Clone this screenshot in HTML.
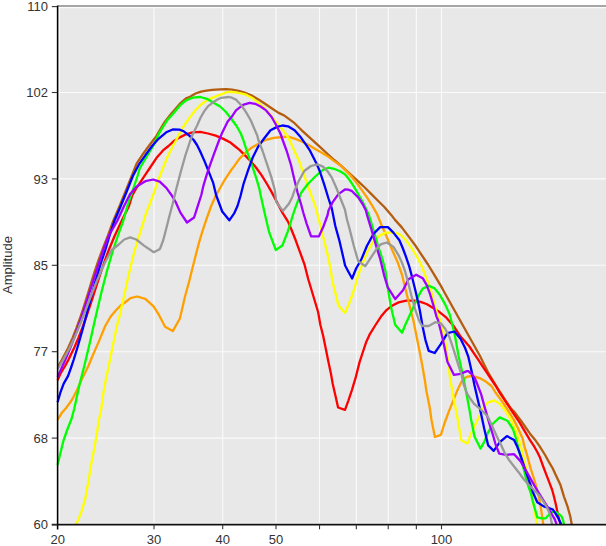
<!DOCTYPE html><html><head><meta charset="utf-8"><style>html,body{margin:0;padding:0;background:#fff;width:606px;height:546px;overflow:hidden}svg{display:block}text{font-family:"Liberation Sans",Arial,Helvetica,sans-serif;fill:#333333}</style></head><body>
<svg width="606" height="546" viewBox="0 0 606 546">
<rect x="58" y="6" width="548" height="518.5" fill="#e8e8e8"/>
<g stroke="#fbfbfb" stroke-width="1.10"><line x1="59.30" y1="6" x2="59.30" y2="524.5"/><line x1="154.02" y1="6" x2="154.02" y2="524.5"/><line x1="222.71" y1="6" x2="222.71" y2="524.5"/><line x1="275.99" y1="6" x2="275.99" y2="524.5"/><line x1="319.53" y1="6" x2="319.53" y2="524.5"/><line x1="356.33" y1="6" x2="356.33" y2="524.5"/><line x1="388.22" y1="6" x2="388.22" y2="524.5"/><line x1="416.34" y1="6" x2="416.34" y2="524.5"/><line x1="441.50" y1="6" x2="441.50" y2="524.5"/><line x1="58" y1="7.60" x2="606" y2="7.60"/><line x1="58" y1="92.50" x2="606" y2="92.50"/><line x1="58" y1="178.90" x2="606" y2="178.90"/><line x1="58" y1="265.30" x2="606" y2="265.30"/><line x1="58" y1="351.70" x2="606" y2="351.70"/><line x1="58" y1="438.10" x2="606" y2="438.10"/><line x1="58" y1="523.20" x2="606" y2="523.20"/></g>
<g fill="none" stroke-width="2.30" stroke-linejoin="round" stroke-linecap="butt">
<polyline stroke="#b45c10" points="57.9,366.7 61.8,360.0 68.1,348.0 72.6,338.0 76.5,328.0 80.1,318.0 83.4,308.0 86.5,298.0 88.4,292.0 91.4,282.0 94.5,272.0 96.5,266.0 98.6,260.0 102.3,250.0 107.8,236.0 113.2,221.0 119.6,206.0 125.3,192.0 131.7,176.0 136.6,163.6 143.2,153.7 149.2,145.5 156.3,136.2 164.0,123.0 171.6,113.3 175.0,109.4 180.5,103.1 186.0,98.3 190.0,96.8 195.5,93.5 201.0,91.6 206.5,90.7 212.0,89.9 220.0,89.4 226.0,89.2 232.0,89.6 238.6,90.8 245.2,92.8 251.8,95.5 258.4,99.4 265.0,103.8 271.6,108.2 278.2,112.6 284.7,115.8 294.6,123.2 301.2,129.8 307.8,135.8 314.4,141.9 321.0,147.9 327.6,154.0 334.2,160.0 340.7,165.5 345.0,169.3 351.6,175.4 358.2,181.4 364.8,187.5 371.4,194.1 378.0,200.7 384.6,207.3 391.2,214.9 395.0,219.9 401.6,227.1 408.2,235.9 414.8,244.7 421.4,254.6 428.0,264.5 434.3,274.9 440.9,285.9 443.1,290.0 455.4,312.0 467.7,334.0 480.0,356.0 484.0,364.2 488.0,372.3 494.0,382.3 500.0,392.0 506.0,401.1 511.0,408.6 514.0,411.5 521.5,421.5 530.0,433.7 534.6,439.2 539.2,445.6 545.1,455.0 549.0,462.1 552.8,468.5 555.4,474.2 557.9,479.4 560.5,485.1 563.9,496.3 567.5,506.4 570.3,516.5 571.7,524.3"/>
<polyline stroke="#ff0000" points="57.6,380.3 60.4,373.7 65.1,366.0 68.3,360.0 74.1,348.0 78.4,338.0 82.3,328.0 85.9,318.0 89.3,308.0 92.6,298.0 94.5,292.0 97.7,282.0 101.0,272.0 103.0,266.0 105.1,260.0 108.8,250.0 114.6,236.0 121.6,221.0 129.0,206.0 132.2,195.5 136.6,187.8 143.2,177.9 149.8,168.0 156.4,158.1 163.0,150.4 168.5,146.0 173.5,141.3 179.4,137.6 186.0,134.3 192.6,132.3 200.3,131.8 208.0,133.5 215.7,135.6 223.4,138.9 229.9,142.2 234.0,145.5 239.5,149.9 245.0,155.4 250.5,160.9 256.0,167.5 261.5,175.2 267.0,184.0 271.4,191.6 275.8,200.0 282.4,212.6 288.0,221.6 291.3,229.3 295.7,240.3 300.1,252.4 304.5,264.5 308.2,279.0 311.5,290.0 314.8,301.0 318.1,312.0 320.4,325.0 323.2,336.0 325.9,349.2 328.1,360.2 330.9,373.4 332.7,383.7 335.4,395.6 338.1,407.5 345.0,409.8 348.2,401.1 351.9,390.1 355.5,378.2 359.5,362.4 362.7,352.5 366.0,342.6 370.0,333.8 375.5,325.0 381.0,316.6 386.5,310.1 392.0,305.7 398.6,302.4 406.3,300.7 414.0,300.7 420.5,301.8 426.6,304.0 433.2,307.9 439.8,312.3 446.4,317.7 454.0,326.6 460.5,336.5 465.5,342.0 469.4,346.5 473.8,353.1 478.2,359.7 482.6,366.3 487.0,372.9 491.4,379.5 495.8,386.0 499.7,392.7 506.3,402.6 512.9,412.5 519.5,422.4 526.0,433.4 530.0,440.1 533.7,445.6 537.3,452.0 540.0,457.6 543.2,466.5 546.4,474.9 549.6,483.2 552.2,490.0 554.2,497.5 556.1,505.5 557.9,514.6 559.3,520.1 560.7,524.3"/>
<polyline stroke="#ffa000" points="57.6,419.8 61.5,413.3 65.9,408.3 70.3,402.3 73.6,396.8 76.9,390.2 81.3,380.3 85.7,371.5 88.4,366.0 92.6,355.7 99.0,341.1 105.2,326.0 110.7,316.5 116.2,310.0 121.6,304.5 125.0,302.5 130.5,298.1 137.1,296.5 145.3,298.9 153.6,306.4 159.1,315.2 165.1,326.7 172.8,331.1 179.9,318.5 185.0,296.5 189.0,282.0 192.5,268.0 195.8,255.0 199.1,242.3 202.4,231.3 206.8,218.1 211.2,206.0 215.6,196.0 218.7,190.5 224.2,180.7 230.7,170.8 234.0,166.4 239.5,158.7 245.0,153.2 251.6,147.7 259.3,143.3 265.0,140.2 273.8,137.8 282.5,137.0 288.0,136.6 294.6,138.6 301.2,141.3 307.8,144.6 314.4,148.5 321.0,152.3 327.6,156.2 334.2,161.1 340.7,165.5 345.0,169.9 350.5,175.4 356.0,182.0 361.5,189.7 367.0,197.4 372.5,206.2 376.9,213.8 381.3,224.5 386.8,237.0 392.3,250.2 397.7,262.3 402.1,275.0 405.2,288.0 408.5,301.3 411.8,314.5 413.3,320.0 416.6,336.5 419.9,353.0 422.6,367.3 424.8,380.0 426.5,391.5 429.8,408.0 431.5,420.0 434.9,437.0 440.9,434.8 444.1,424.5 448.5,412.4 452.9,401.4 457.3,390.4 461.6,381.6 466.0,377.2 470.0,376.1 474.9,376.7 480.4,378.4 485.9,381.6 491.4,386.0 496.4,393.8 503.0,402.6 508.5,411.4 514.0,420.2 518.4,429.0 522.7,438.8 524.0,444.9 527.3,455.9 530.5,468.0 533.9,478.5 536.4,487.2 538.7,496.3 540.5,505.5 541.9,514.6 543.3,524.3"/>
<polyline stroke="#ffff00" points="75.8,524.4 78.0,520.5 81.3,511.8 85.1,499.7 87.9,484.3 91.2,464.0 94.5,447.5 96.7,434.3 98.9,420.0 101.1,410.0 103.3,393.5 105.7,380.3 108.7,366.0 111.9,350.0 114.4,338.0 116.9,326.0 120.1,314.0 122.7,302.0 125.4,290.0 126.3,286.0 128.4,276.0 130.8,266.0 133.8,254.0 137.2,242.3 142.6,224.7 146.2,212.6 149.8,204.0 154.2,192.2 158.6,179.0 163.0,168.0 167.4,157.0 172.9,146.0 176.2,140.0 181.7,129.2 187.2,121.0 190.0,117.1 195.5,110.0 201.0,104.5 206.5,100.6 212.0,97.9 217.5,95.7 222.0,94.1 226.6,92.2 232.0,92.0 238.6,92.8 245.2,94.4 251.8,97.7 258.4,102.7 263.9,107.6 269.4,113.7 273.8,119.2 279.3,125.8 284.7,132.4 288.5,138.0 291.3,144.1 295.7,154.0 298.8,160.0 302.1,169.9 306.5,182.0 310.9,194.1 315.3,206.2 317.7,215.0 321.0,228.2 324.3,241.4 327.6,254.6 330.3,267.7 332.4,281.2 335.7,294.4 338.4,305.4 345.0,313.1 348.8,304.3 352.1,295.5 355.0,286.7 358.2,275.0 362.6,263.4 367.0,252.4 372.5,242.5 379.1,235.9 385.7,232.6 391.2,232.6 395.5,232.8 400.5,234.8 406.0,240.3 411.5,248.0 417.0,256.8 421.4,265.5 425.5,276.0 429.9,287.0 433.2,299.1 436.5,311.2 440.2,320.0 443.0,331.0 446.3,347.5 448.5,364.0 449.6,375.0 451.8,388.2 454.0,400.3 457.3,417.0 461.3,440.3 467.3,443.6 471.2,433.2 474.4,426.8 478.8,416.9 483.2,408.1 487.6,402.6 494.2,400.4 499.7,403.7 505.2,410.3 510.7,419.1 515.1,429.0 517.4,435.0 520.7,446.0 524.0,459.2 527.3,472.4 530.5,487.0 533.7,505.5 535.5,516.5 536.9,524.3"/>
<polyline stroke="#00ff00" points="57.6,465.0 60.4,453.0 63.5,440.5 67.5,429.0 71.5,419.0 74.2,409.0 76.8,397.0 79.9,383.0 84.3,366.0 85.7,360.0 88.6,348.0 90.9,338.0 93.1,328.0 95.4,318.0 97.7,308.0 100.1,298.0 101.5,292.0 104.1,282.0 106.7,272.0 108.4,266.0 110.1,260.0 113.1,250.0 117.8,236.0 123.2,221.0 127.4,206.0 132.2,192.0 137.5,176.0 139.9,168.0 146.5,157.0 153.1,146.0 159.6,132.3 167.3,120.2 175.0,111.4 180.5,104.9 186.0,100.5 192.6,97.7 200.3,97.0 206.9,98.8 213.5,102.7 220.1,106.5 225.5,111.5 229.9,117.0 236.4,125.8 240.8,133.5 243.3,140.0 247.2,152.1 251.6,164.2 256.0,177.4 259.3,188.4 260.6,195.0 264.8,213.7 269.2,232.4 275.8,250.0 282.4,245.5 287.8,231.3 290.2,223.8 292.9,215.0 295.5,207.3 301.0,193.0 307.6,184.2 315.3,176.5 323.0,169.9 328.5,167.7 334.0,168.8 339.5,171.0 344.9,174.3 349.4,179.8 353.8,186.4 358.2,194.1 362.6,201.8 365.9,208.4 369.2,216.0 373.6,230.4 378.0,245.8 382.4,259.0 385.7,272.1 387.5,286.0 390.9,306.8 395.3,325.0 402.1,332.7 405.2,325.0 409.6,315.5 414.0,305.7 418.4,295.8 422.7,288.6 428.8,285.9 434.3,288.1 439.8,294.7 445.3,304.6 449.7,314.5 452.4,325.0 455.1,336.5 458.4,355.2 461.6,369.5 463.8,380.0 467.1,397.0 469.5,410.0 471.2,420.0 474.5,436.5 480.5,448.6 484.4,441.6 487.6,433.4 493.1,423.5 499.7,417.4 507.4,420.7 512.9,429.0 515.5,437.0 518.5,448.2 521.8,461.4 524.0,470.2 526.2,479.0 528.4,486.5 530.5,492.0 532.7,500.9 535.5,511.0 537.3,517.4 541.9,518.3 545.6,518.3 548.3,515.5 551.1,511.9 555.6,511.9 559.3,514.2 561.6,516.5 563.0,520.1 563.9,524.3"/>
<polyline stroke="#0000ff" points="57.6,402.3 60.4,392.4 63.7,383.6 68.1,375.9 71.6,366.0 73.6,360.0 77.3,348.0 80.2,338.0 83.0,328.0 85.6,318.0 88.2,308.0 90.9,298.0 92.5,292.0 95.2,282.0 98.2,272.0 100.0,266.0 101.9,260.0 105.3,250.0 109.4,236.0 114.4,221.0 120.8,206.0 126.5,192.0 132.9,176.0 138.8,164.7 146.5,153.7 152.5,145.5 158.5,138.8 166.2,132.3 172.7,129.5 179.4,129.6 183.8,131.3 189.3,135.6 193.7,140.0 197.0,145.0 200.0,151.0 204.4,160.9 208.8,171.9 213.2,182.9 216.1,195.0 222.2,211.5 229.3,220.3 234.0,213.7 237.5,206.0 240.5,196.0 243.5,184.0 248.3,169.7 252.7,157.6 258.2,146.6 263.7,139.0 270.5,130.2 277.1,126.9 282.5,125.5 288.0,126.3 294.6,130.3 300.1,136.4 305.6,144.1 310.0,150.7 313.3,157.3 316.6,163.8 319.7,171.0 324.1,184.2 328.5,198.5 331.8,208.4 335.3,226.0 339.6,241.4 342.9,255.7 345.1,265.5 348.0,271.0 352.1,278.5 356.0,268.8 361.5,259.0 367.0,245.8 373.6,233.7 380.2,227.1 387.9,227.1 393.4,232.6 399.4,240.3 402.7,248.0 406.0,256.8 409.3,266.6 411.8,276.0 415.1,289.2 418.4,303.5 420.0,311.2 421.5,320.0 422.5,326.0 425.4,339.8 428.7,350.8 434.7,353.0 440.8,344.2 447.4,333.2 454.5,331.5 460.5,338.7 464.9,347.5 468.2,356.3 470.5,366.3 472.7,376.2 474.4,385.0 477.7,399.3 481.0,413.6 484.3,429.0 488.2,445.4 493.7,450.9 499.8,442.1 506.9,436.1 514.1,439.9 517.4,447.1 520.7,455.9 524.0,465.8 527.3,475.7 530.0,483.5 532.7,491.7 537.3,502.3 543.7,506.4 548.3,507.8 552.9,509.6 555.6,513.7 558.4,518.3 561.1,524.3"/>
<polyline stroke="#a000ff" points="57.6,377.0 60.7,370.0 62.5,366.0 65.2,360.0 70.2,348.0 74.1,338.0 77.8,328.0 81.2,318.0 84.5,308.0 87.8,298.0 89.7,292.0 92.9,282.0 96.1,272.0 98.0,266.0 100.0,260.0 103.4,250.0 108.6,236.0 117.2,221.0 124.1,206.0 130.1,194.1 136.7,186.4 142.0,183.2 145.4,181.2 153.1,179.5 159.7,181.7 166.3,187.8 171.8,195.5 176.0,202.7 180.4,212.6 187.0,222.5 194.1,217.5 197.4,207.1 201.3,195.0 203.3,186.2 206.6,175.2 209.9,165.3 214.3,153.2 219.2,140.0 222.3,132.4 227.7,121.4 232.0,116.4 236.0,110.4 243.0,104.9 249.6,102.9 255.1,103.8 260.6,106.5 266.1,110.4 271.6,117.0 276.0,124.7 280.4,133.5 283.4,142.0 286.7,151.0 291.0,165.0 294.4,179.8 297.7,193.0 301.0,204.0 303.4,213.0 306.7,223.8 311.1,236.4 318.8,236.4 323.2,227.1 327.6,215.0 328.5,210.5 332.9,201.8 338.4,194.1 345.0,189.5 348.2,189.7 351.6,190.8 358.2,197.4 362.6,204.0 365.9,210.5 367.0,215.0 371.4,229.3 375.8,244.7 380.2,259.0 384.3,276.0 387.6,287.0 395.3,299.1 403.0,290.3 408.5,279.3 416.2,274.7 422.7,278.2 426.6,284.8 429.9,293.6 433.2,304.6 436.5,316.6 438.0,320.0 440.8,331.0 444.1,345.3 447.4,361.8 454.0,374.9 460.5,373.8 467.1,371.1 468.3,371.2 471.6,374.0 474.9,378.4 477.1,383.8 481.0,393.8 484.3,405.9 488.7,421.3 493.1,435.5 495.4,443.8 499.2,453.7 506.4,454.8 514.1,454.2 520.7,461.4 525.1,469.1 529.5,476.8 534.6,486.0 539.2,493.5 543.7,500.9 548.3,508.2 552.0,514.6 554.7,519.2 556.6,524.3"/>
<polyline stroke="#999999" points="57.7,368.8 63.1,360.0 69.6,348.0 74.3,338.0 78.6,328.0 82.6,318.0 86.4,308.0 90.2,298.0 92.5,292.0 96.4,282.0 100.7,272.0 103.4,266.0 106.3,260.0 111.7,250.0 118.7,244.5 124.2,239.5 130.2,237.3 136.3,239.5 144.0,245.6 153.8,252.2 160.0,248.9 163.3,240.0 165.9,230.0 168.9,218.0 172.5,204.5 176.5,188.0 181.0,171.0 185.5,155.0 190.0,141.5 192.6,134.5 197.0,125.8 200.4,118.0 204.3,111.1 208.1,106.1 213.1,102.3 217.5,99.5 221.2,97.8 228.8,97.0 232.0,97.7 236.4,99.9 241.9,106.0 246.3,112.6 250.7,120.3 254.0,128.0 257.3,135.6 258.2,139.5 262.6,151.0 267.0,164.2 271.4,177.4 274.7,189.5 276.3,202.1 282.9,210.9 288.9,203.8 292.2,197.2 294.4,190.8 298.8,180.9 304.3,171.0 310.9,166.0 317.5,164.4 323.0,166.6 327.4,171.0 331.8,177.6 336.2,187.5 340.5,198.5 344.9,209.5 347.1,220.0 349.4,228.2 353.8,245.8 358.2,261.2 365.3,266.1 371.4,256.8 378.0,246.9 381.3,244.1 386.8,242.5 393.4,246.9 398.8,255.7 402.1,263.0 405.0,271.0 408.0,282.0 411.5,296.0 415.1,309.0 418.8,320.0 422.1,326.0 428.7,326.0 435.3,322.2 440.8,323.3 445.2,328.8 449.6,337.6 454.0,350.8 458.4,365.1 461.6,375.0 463.8,384.9 467.1,393.7 470.0,398.2 474.4,404.2 481.0,409.7 487.6,416.3 492.0,425.7 496.4,435.5 501.1,445.0 504.4,452.3 508.8,459.7 513.9,466.2 519.0,472.8 523.4,478.7 527.8,483.8 534.6,490.8 539.2,495.4 543.7,501.8 547.4,508.2 550.1,514.6 552.0,524.3"/>
</g>
<line x1="58" y1="5.9" x2="606" y2="5.9" stroke="#a6a6a6" stroke-width="2"/>
<line x1="57.6" y1="5.6" x2="57.6" y2="529.5" stroke="#000" stroke-width="1.55"/>
<line x1="51.8" y1="524.7" x2="606" y2="524.7" stroke="#111" stroke-width="1.8"/>
<g stroke="#333" stroke-width="1.1"><line x1="51.8" y1="6.60" x2="57" y2="6.60"/><line x1="51.8" y1="92.50" x2="57" y2="92.50"/><line x1="51.8" y1="178.90" x2="57" y2="178.90"/><line x1="51.8" y1="265.30" x2="57" y2="265.30"/><line x1="51.8" y1="351.70" x2="57" y2="351.70"/><line x1="51.8" y1="438.10" x2="57" y2="438.10"/><line x1="51.8" y1="524.70" x2="57" y2="524.70"/><line x1="154.02" y1="524.7" x2="154.02" y2="529.3"/><line x1="222.71" y1="524.7" x2="222.71" y2="529.3"/><line x1="275.99" y1="524.7" x2="275.99" y2="529.3"/><line x1="319.53" y1="524.7" x2="319.53" y2="529.3"/><line x1="356.33" y1="524.7" x2="356.33" y2="529.3"/><line x1="388.22" y1="524.7" x2="388.22" y2="529.3"/><line x1="416.34" y1="524.7" x2="416.34" y2="529.3"/><line x1="441.50" y1="524.7" x2="441.50" y2="529.3"/></g>
<g font-size="13"><text x="48" y="10.70" text-anchor="end">110</text><text x="48" y="97.10" text-anchor="end">102</text><text x="48" y="183.50" text-anchor="end">93</text><text x="48" y="269.90" text-anchor="end">85</text><text x="48" y="356.30" text-anchor="end">77</text><text x="48" y="442.70" text-anchor="end">68</text><text x="48" y="529.10" text-anchor="end">60</text><text x="57.70" y="543.5" text-anchor="middle">20</text><text x="154.02" y="543.5" text-anchor="middle">30</text><text x="222.71" y="543.5" text-anchor="middle">40</text><text x="275.99" y="543.5" text-anchor="middle">50</text><text x="441.50" y="543.5" text-anchor="middle">100</text></g>
<text font-size="13" transform="translate(12.2,265) rotate(-90)" text-anchor="middle">Amplitude</text>
</svg></body></html>
